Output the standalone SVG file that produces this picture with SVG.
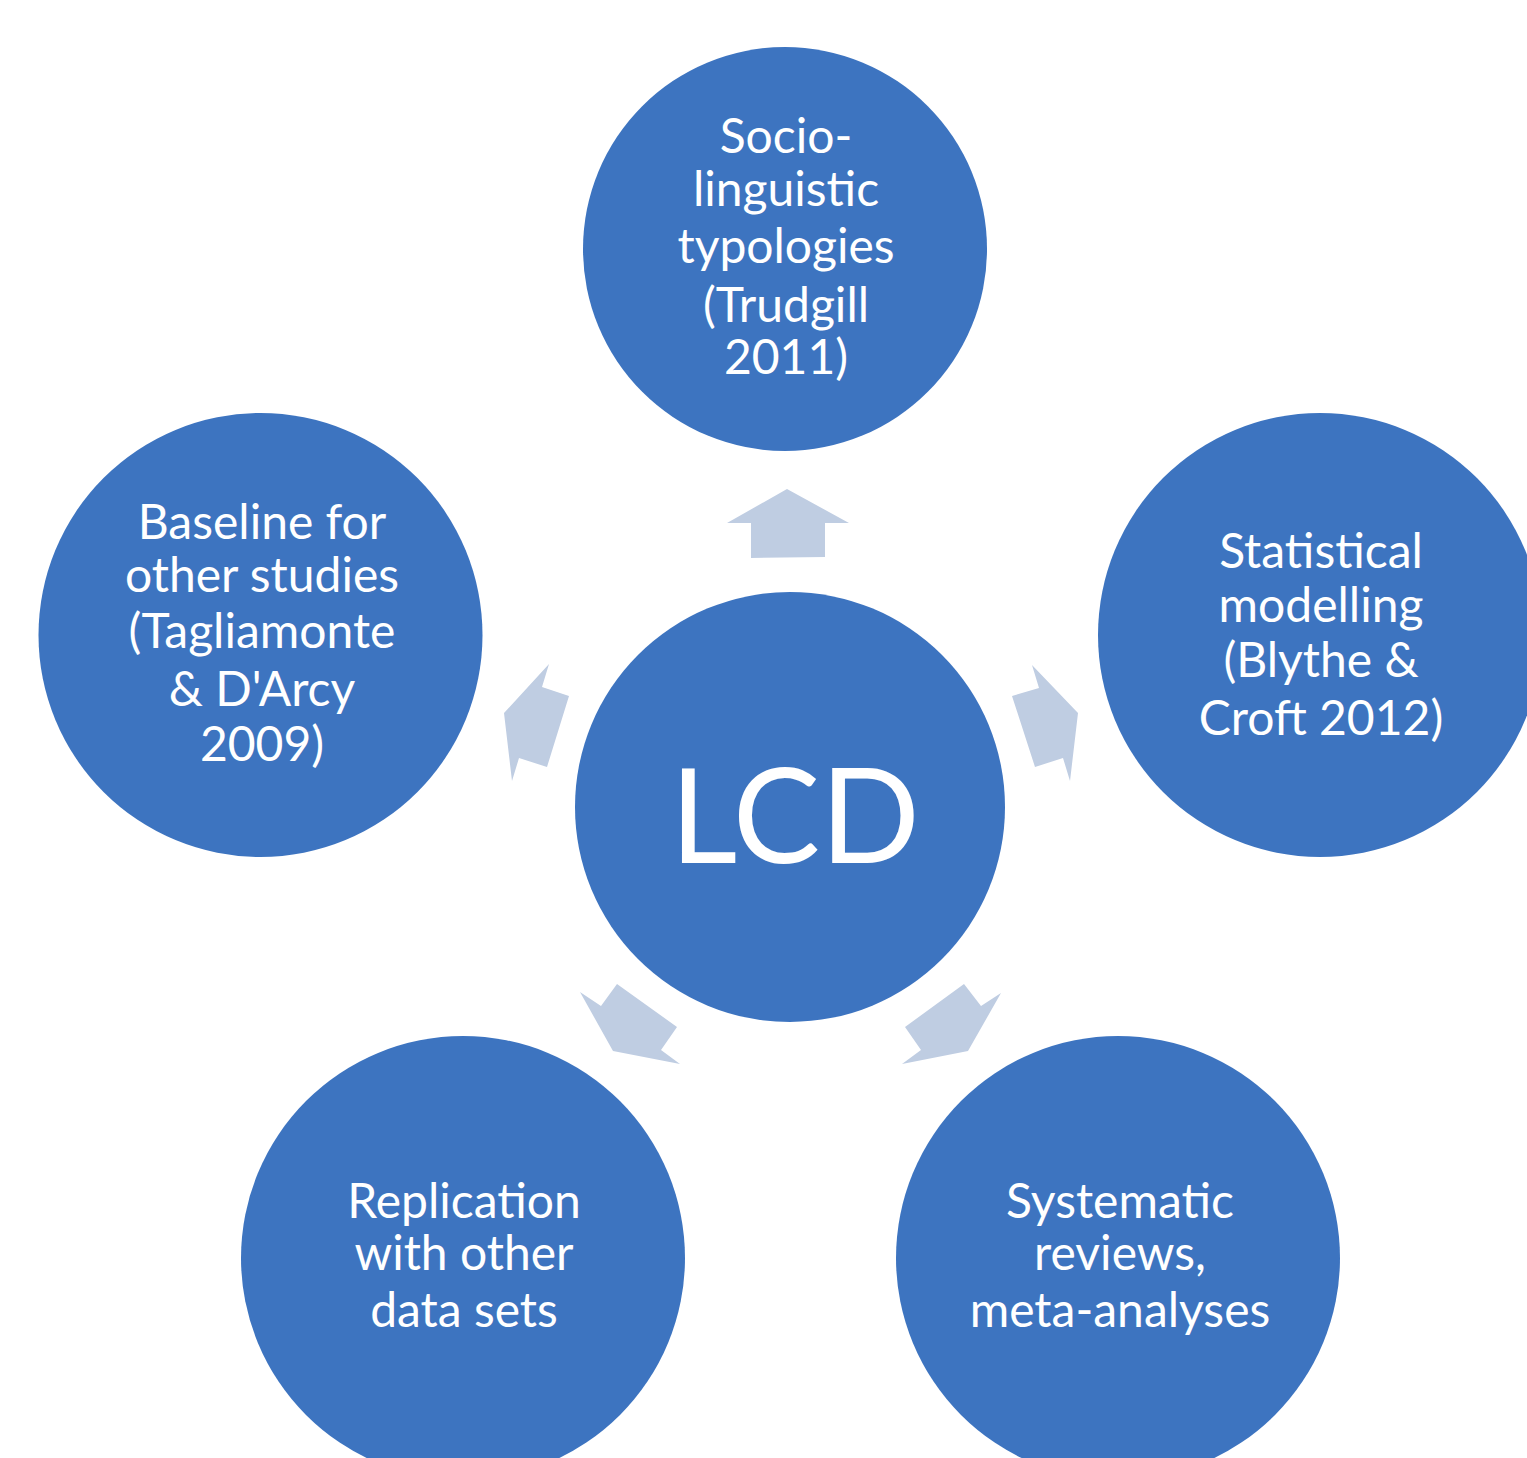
<svg xmlns="http://www.w3.org/2000/svg" width="1527" height="1458" viewBox="0 0 1527 1458">
<style>
.node{fill:#3D74C0;}
.arrow{fill:#BFCDE2;}
.t{font-family:Lato,"Open Sans","Liberation Sans",sans-serif;font-size:48px;fill:#FFFFFF;text-anchor:middle;}
.big{font-family:Lato,"Open Sans","Liberation Sans",sans-serif;font-size:131px;fill:#FFFFFF;text-anchor:middle;}
</style>
<rect width="1527" height="1458" fill="#FFFFFF"/>
<g id="connectors">
<polygon class="arrow" points="787,489 849,523 825,523 825,557 751,558 751,523 727,523"/>
<polygon class="arrow" points="1032,665 1039,688 1012,696 1035,767 1063,758 1070,781 1078,713"/>
<polygon class="arrow" points="1001,993 981,1006 964,984 905,1027 921,1050 902,1064 968,1051"/>
<polygon class="arrow" points="580,992 601,1006 617,984 677,1027 661,1050 680,1064 613,1051"/>
<polygon class="arrow" points="549,664 542,687 569,696 547,767 519,758 512,781 504,713"/>
</g>
<g id="node-center">
<circle class="node" cx="790" cy="807" r="215"/>
<text class="big" x="795" y="863">LCD</text>
</g>
<g id="node-top">
<circle class="node" cx="785" cy="249" r="202"/>
<text class="t" x="786" y="153">Socio-</text>
<text class="t" x="786" y="206">linguistic</text>
<text class="t" x="786" y="263">typologies</text>
<text class="t" x="786" y="322">(Trudgill</text>
<text class="t" x="786" y="374">2011)</text>
</g>
<g id="node-right">
<circle class="node" cx="1320" cy="635" r="222"/>
<text class="t" x="1321" y="568">Statistical</text>
<text class="t" x="1321" y="622">modelling</text>
<text class="t" x="1321" y="677">(Blythe &amp;</text>
<text class="t" x="1321" y="735">Croft 2012)</text>
</g>
<g id="node-bottom-right">
<circle class="node" cx="1118" cy="1258" r="222"/>
<text class="t" x="1120" y="1218">Systematic</text>
<text class="t" x="1120" y="1270">reviews,</text>
<text class="t" x="1120" y="1327">meta-analyses</text>
</g>
<g id="node-bottom-left">
<circle class="node" cx="463" cy="1258" r="222"/>
<text class="t" x="464" y="1218">Replication</text>
<text class="t" x="464" y="1270">with other</text>
<text class="t" x="464" y="1327">data sets</text>
</g>
<g id="node-left">
<circle class="node" cx="260.5" cy="635" r="222"/>
<text class="t" x="262" y="539">Baseline for</text>
<text class="t" x="262" y="592">other studies</text>
<text class="t" x="262" y="648">(Tagliamonte</text>
<text class="t" x="262" y="706">&amp; D'Arcy</text>
<text class="t" x="262" y="761">2009)</text>
</g>
</svg>
